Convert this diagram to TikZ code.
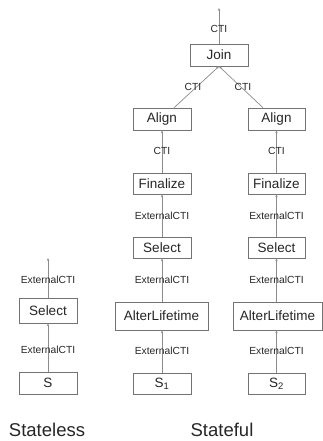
\documentclass[tikz,border=0pt]{standalone}
\usepackage{fontspec}
\setmainfont{Liberation Sans}
\usetikzlibrary{arrows.meta}
\begin{document}
\begin{tikzpicture}[x=1pt,y=-1pt,
  opbox/.style={draw=black!55,line width=0.6pt,fill=white,inner sep=0pt,font=\fontsize{13.5}{14}\selectfont,text=black!85},
  lbl/.style={font=\fontsize{10.3}{11}\selectfont,text=black!85,inner sep=0pt},
  big/.style={font=\fontsize{18.5}{20}\selectfont,text=black!85,inner sep=0pt},
  arr/.style={draw=black!45,line width=0.7pt,-{Stealth[length=3pt,width=2.4pt]}}]
\useasboundingbox (0,0) rectangle (323,441);
% stateful
\node[opbox,minimum width=58pt,minimum height=22pt] (join) at (219,55) {Join};
\node[opbox,minimum width=58pt,minimum height=22pt] (alignL) at (162,119) {Align};
\node[opbox,minimum width=57pt,minimum height=22pt] (alignR) at (276.5,119) {Align};
\node[opbox,minimum width=58pt,minimum height=21pt] (finL) at (162,183.5) {Finalize};
\node[opbox,minimum width=57pt,minimum height=21pt] (finR) at (276.5,183.5) {Finalize};
\node[opbox,minimum width=58pt,minimum height=21pt] (selL) at (162,247.5) {Select};
\node[opbox,minimum width=57pt,minimum height=21pt] (selR) at (276.5,247.5) {Select};
\node[opbox,minimum width=93pt,minimum height=28pt] (altL) at (161.5,316) {AlterLifetime};
\node[opbox,minimum width=89pt,minimum height=28pt] (altR) at (277.5,316) {AlterLifetime};
\node[opbox,minimum width=58pt,minimum height=21pt] (s1) at (162,383.5) {S\textsubscript{1}};
\node[opbox,minimum width=57pt,minimum height=21pt] (s2) at (276.5,383.5) {S\textsubscript{2}};
\coordinate (top) at (219,8);
% stateless
\node[opbox,minimum width=58pt,minimum height=25pt] (sel0) at (48,310.5) {Select};
\node[opbox,minimum width=58pt,minimum height=22pt] (s0) at (48,383) {S};
\coordinate (top0) at (48,258);
% connectors
\draw[arr] (join) -- (top);
\draw[arr] ([xshift=12pt]alignL.north) -- (join.south);
\draw[arr] ([xshift=-13.5pt]alignR.north) -- (join.south);
\draw[arr] (finL) -- (alignL);
\draw[arr] (finR) -- (alignR);
\draw[arr] (selL) -- (finL);
\draw[arr] (selR) -- (finR);
\draw[arr] (altL.north -| selL) -- (selL);
\draw[arr] (altR.north -| selR) -- (selR);
\draw[arr] (s1) -- (s1 |- altL.south);
\draw[arr] (s2) -- (s2 |- altR.south);
\draw[arr] (sel0) -- (top0);
\draw[arr] (s0) -- (sel0);
% labels
\node[lbl] (l1) at (219,29) {CTI};
\node[lbl] (l2) at (193,87) {CTI};
\node[lbl] (l3) at (243,87) {CTI};
\node[lbl] (l4) at (162,151) {CTI};
\node[lbl] (l5) at (276.5,151) {CTI};
\node[lbl] (l6) at (162,216) {ExternalCTI};
\node[lbl] (l7) at (276.5,216) {ExternalCTI};
\node[lbl] (l8) at (162,280) {ExternalCTI};
\node[lbl] (l9) at (276.5,280) {ExternalCTI};
\node[lbl] (l10) at (162,351) {ExternalCTI};
\node[lbl] (l11) at (276.5,351) {ExternalCTI};
\node[lbl] (l12) at (48,280) {ExternalCTI};
\node[lbl] (l13) at (48,350) {ExternalCTI};
\node[big] (stateless) at (47,430) {Stateless};
\node[big] (stateful) at (222,430) {Stateful};
\end{tikzpicture}
\end{document}
